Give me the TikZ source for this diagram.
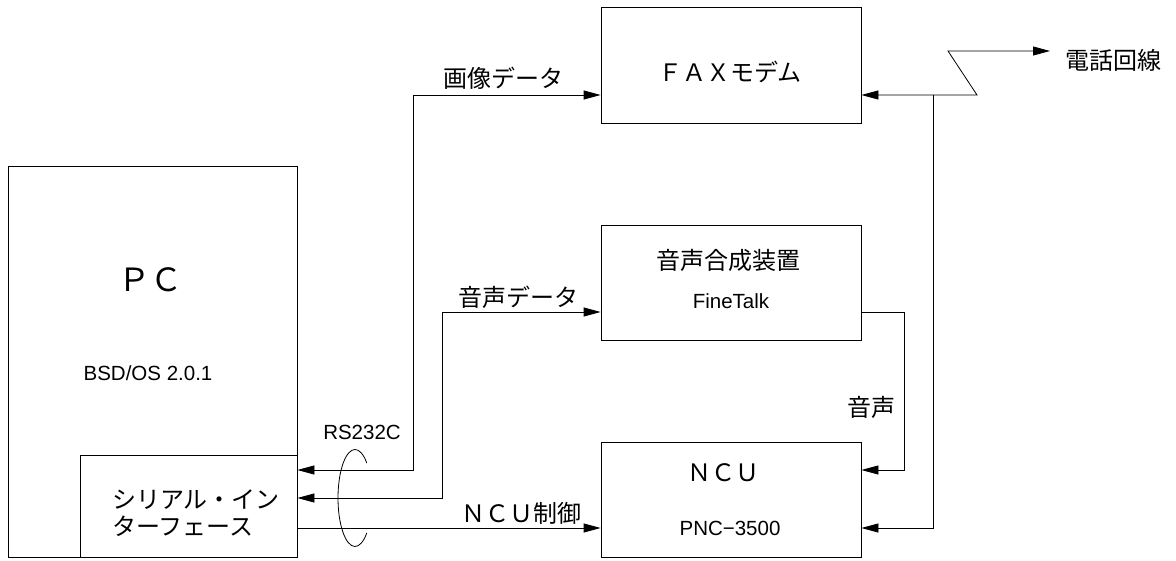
\documentclass[tikz,border=0pt]{standalone}
\usepackage{fontspec}
\setmainfont{Liberation Sans}
\newfontfamily\jp{Noto Sans CJK JP}
\usetikzlibrary{arrows.meta}
\tikzset{
  box/.style={draw, line width=0.8pt, inner sep=0pt, fill=none},
  wire/.style={line width=0.8pt},
  tip/.tip={Triangle[length=17pt,width=9pt]},
  jplabel/.style={font=\jp\fontsize{24}{27}\selectfont, inner sep=0pt},
  enlabel/.style={font=\fontsize{20.5}{24}\selectfont, inner sep=0pt},
}
\begin{document}
\begin{tikzpicture}[x=1pt,y=-1pt]
\useasboundingbox (0,0) rectangle (1176,561);
% boxes
\node[box, minimum width=289, minimum height=391] (pc) at (152.5,361.5) {};
\node[box, minimum width=217, minimum height=102] (serial) at (188.5,506) {};
\node[box, minimum width=260, minimum height=116] (fax) at (731,65) {};
\node[box, minimum width=260, minimum height=115] (speech) at (731,282.5) {};
\node[box, minimum width=260, minimum height=115] (ncu) at (731,499.5) {};
% box texts
\node[jplabel, font=\jp\fontsize{32}{36}\selectfont] (pct) at (150,280) {ＰＣ};
\node[enlabel] (bsd) at (148,373) {BSD/OS 2.0.1};
\node[jplabel, anchor=north west, align=left] (sert) at (112,490) {シリアル・イン\\ターフェース};
\node[jplabel] (faxt) at (730,72) {ＦＡＸモデム};
\node[jplabel] (spt) at (728,260) {音声合成装置};
\node[enlabel] (fine) at (731,301) {FineTalk};
\node[jplabel] (ncut) at (723,473) {ＮＣＵ};
\node[enlabel] (pnc) at (730,528) {PNC−3500};
% labels
\node[jplabel] (l1) at (503,78) {画像データ};
\node[jplabel] (l2) at (518,297) {音声データ};
\node[jplabel] (l3) at (521,513) {ＮＣＵ制御};
\node[enlabel] (rs) at (362,432) {RS232C};
\node[jplabel] (l4) at (871,407) {音声};
\node[jplabel] (tel) at (1113,60) {電話回線};
% coordinates
\coordinate (z1) at (977,95);
\coordinate (z2) at (948,51);
\coordinate (telend) at (1050,51);
\coordinate (br) at (933,95);
% connectors
\draw[wire, tip-tip] (serial.east |- 0,470) -- (413,470) -- (413,95) -- (fax.west |- 0,95);
\draw[wire, tip-tip] (serial.east |- 0,498) -- (442,498) -- (442,312) -- (speech.west |- 0,312);
\draw[wire, -tip] (serial.east |- 0,528) -- (ncu.west |- 0,528);
\draw[wire, -tip] (speech.east |- 0,312) -- (904,312) -- (904,470) -- (ncu.east |- 0,470);
\draw[wire, tip-tip] (fax.east |- z1) -- (z1) -- (z2) -- (telend);
\draw[wire, -tip] (br) -- (933,528) -- (ncu.east |- 0,528);
% cable loop
\coordinate (loop) at (355,498);
\draw[wire] ([shift={(46:17 and 48.5)}]loop) arc[start angle=46, end angle=314, x radius=17, y radius=48.5];
\end{tikzpicture}
\end{document}
